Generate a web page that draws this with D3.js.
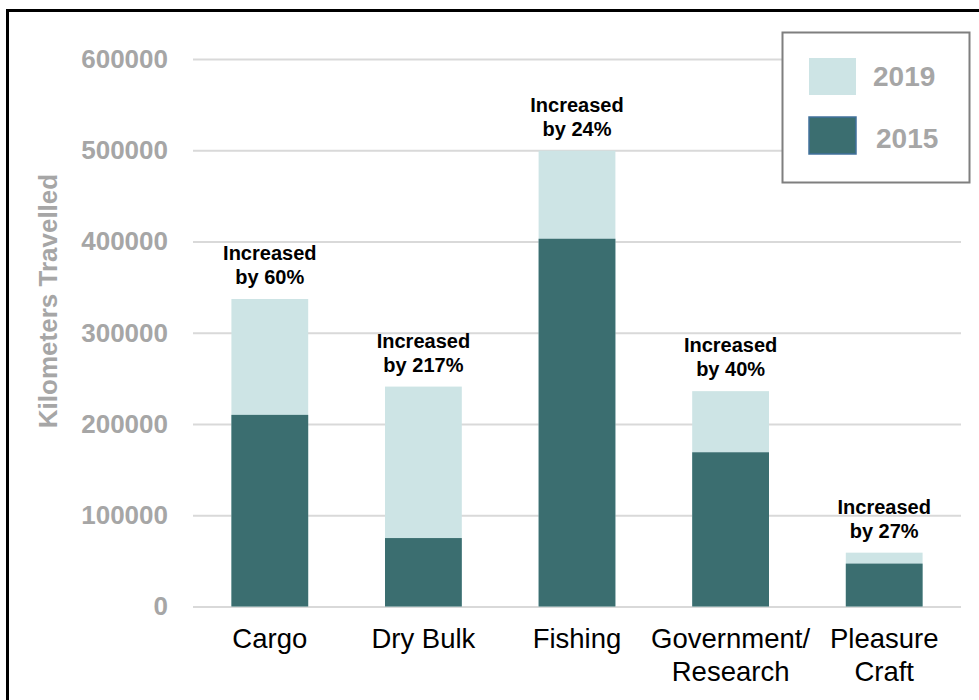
<!DOCTYPE html>
<html>
<head>
<meta charset="utf-8">
<script src="https://cdn.jsdelivr.net/npm/d3@7"></script>
<style>
  body { margin: 0; background: #fff; }
  text { font-family: "Liberation Sans", Arial, sans-serif; }
</style>
</head>
<body>
<svg class="chart" width="979" height="700"></svg>
<script>
// data
const categories = ["Cargo", "Dry Bulk", "Fishing", "Government/\nResearch", "Pleasure\nCraft"]
const km2019 = [337000, 241000, 499500, 236000, 59000]
const km2015 = [210000, 75000, 403000, 169000, 47000]
const increase = ["60%", "217%", "24%", "40%", "27%"]
const yTicks = [0, 100000, 200000, 300000, 400000, 500000, 600000]
const seriesNames = ["2019", "2015"]

const light = "#cde4e5"
const dark = "#3b6e70"

const svg = d3.select("svg.chart")

// outer frame
svg.append("rect")
  .attr("x", 7.5).attr("y", 10.5)
  .attr("width", 1000).attr("height", 720)
  .attr("fill", "none")
  .attr("stroke", "#000")
  .attr("stroke-width", 3)

const x = d3.scaleBand()
  .domain(categories)
  .range([193, 961])
  .paddingInner(0.5)
  .paddingOuter(0.25)

const y = d3.scaleLinear()
  .domain([0, 600000])
  .range([606.5, 59])

// y axis + gridlines
const yAxis = svg.append("g")
  .attr("transform", "translate(193,0)")
  .call(d3.axisLeft(y)
    .tickValues(yTicks)
    .tickFormat(d3.format("d"))
    .tickSizeInner(-768)
    .tickSizeOuter(0)
    .tickPadding(25))
yAxis.select(".domain").remove()
yAxis.selectAll(".tick line")
  .attr("stroke", "#d9d9d9")
  .attr("stroke-width", 2)
yAxis.selectAll(".tick text")
  .attr("fill", "#a6a6a6")
  .attr("font-size", 26)
  .attr("font-weight", "bold")
  .attr("font-family", "Liberation Sans, Arial, sans-serif")

svg.append("text")
  .attr("transform", "translate(57,301) rotate(-90)")
  .attr("text-anchor", "middle")
  .attr("fill", "#a6a6a6")
  .attr("font-size", 26)
  .attr("font-weight", "bold")
  .text("Kilometers Travelled")

// bars: 2019 full height, 2015 drawn over it
const groups = svg.selectAll("g.bar")
  .data(categories)
  .enter()
  .append("g")
  .attr("class", "bar")

groups.append("rect")
  .attr("x", d => x(d))
  .attr("y", (d, i) => y(km2019[i]))
  .attr("width", x.bandwidth())
  .attr("height", (d, i) => y(0) - y(km2019[i]))
  .attr("fill", light)

groups.append("rect")
  .attr("x", d => x(d))
  .attr("y", (d, i) => y(km2015[i]))
  .attr("width", x.bandwidth())
  .attr("height", (d, i) => y(0) - y(km2015[i]))
  .attr("fill", dark)

const notes = groups.append("text")
  .attr("text-anchor", "middle")
  .attr("font-size", 20)
  .attr("font-weight", "bold")
  .attr("fill", "#000")
notes.append("tspan")
  .attr("x", d => x(d) + x.bandwidth() / 2)
  .attr("y", (d, i) => y(km2019[i]) - 39)
  .text("Increased")
notes.append("tspan")
  .attr("x", d => x(d) + x.bandwidth() / 2)
  .attr("y", (d, i) => y(km2019[i]) - 15)
  .text((d, i) => "by " + increase[i])

// x axis labels
const xAxis = svg.append("g")
  .attr("transform", "translate(0,606.5)")
  .call(d3.axisBottom(x).tickSize(0).tickPadding(0))
xAxis.select(".domain").remove()
xAxis.selectAll(".tick text").each(function(d) {
  const t = d3.select(this)
  t.text(null)
    .attr("y", 0)
    .attr("dy", null)
    .attr("fill", "#000")
    .attr("font-size", 27.5)
    .attr("font-family", "Liberation Sans, Arial, sans-serif")
  d.split("\n").forEach((line, j) => {
    t.append("tspan")
      .attr("x", 0)
      .attr("y", 41 + j * 33)
      .text(line)
  })
})

// legend
const legend = svg.append("g")
legend.append("rect")
  .attr("x", 782.5).attr("y", 32.5)
  .attr("width", 187).attr("height", 150)
  .attr("fill", "#fff")
  .attr("stroke", "#7f7f7f")
  .attr("stroke-width", 2)

const items = legend.selectAll("g.item")
  .data(seriesNames)
  .enter()
  .append("g")
  .attr("class", "item")
  .attr("transform", (d, i) => "translate(0," + (i * 59) + ")")

items.append("rect")
  .attr("x", 809).attr("y", 58)
  .attr("width", 47).attr("height", 37)
  .attr("fill", (d, i) => i === 0 ? light : dark)
  .attr("stroke", (d, i) => i === 0 ? "none" : "#41719c")
  .attr("stroke-width", 1.5)

items.append("text")
  .attr("x", (d, i) => i === 0 ? 873 : 876)
  .attr("y", (d, i) => 86 + i * 3)
  .attr("fill", "#a6a6a6")
  .attr("font-size", 28)
  .attr("font-weight", "bold")
  .text(d => d)
</script>
</body>
</html>
